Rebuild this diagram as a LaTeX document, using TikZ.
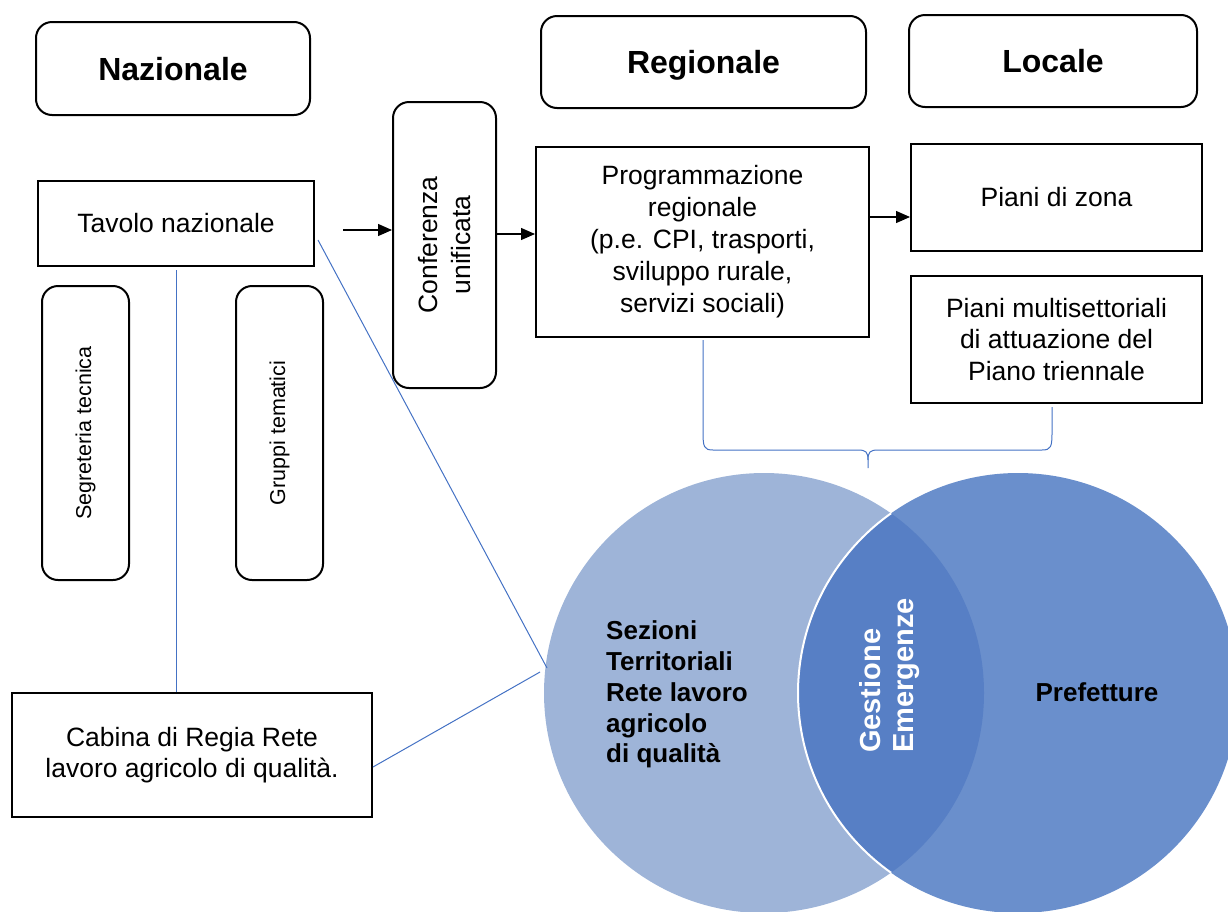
\documentclass[tikz,border=0pt]{standalone}
\usepackage{fontspec}
\setmainfont{Liberation Sans}
\usetikzlibrary{arrows.meta,calc}
\definecolor{cL}{RGB}{158,180,216}
\definecolor{cR}{RGB}{106,143,204}
\definecolor{cM}{RGB}{87,127,197}
\definecolor{lnblue}{RGB}{68,114,196}
\begin{document}
\begin{tikzpicture}[x=1pt,y=-1pt,
  box/.style={draw, line width=2pt, inner sep=0pt, align=center, font=\fontsize{26.5}{32}\selectfont},
  rbox/.style={box, rounded corners=16pt},
  head/.style={font=\fontsize{32}{38}\selectfont\bfseries, text height=23pt, text depth=0pt},
  vtext/.style={rotate=90, align=center, inner sep=0pt},
  arr/.style={-{Triangle[length=14pt,width=12pt]}, line width=1.3pt},
  conn/.style={draw=lnblue, line width=1pt}]
\useasboundingbox (0,0) rectangle (1228,911);
\clip (0,0) rectangle (1228,911);

% Venn circles
\node[circle, fill=cL, minimum size=440pt, inner sep=0pt] (L) at (764,693) {};
\node[circle, fill=cR, minimum size=440pt, inner sep=0pt] (R) at (1018,693) {};
\begin{scope}
  \clip (764,693) circle[radius=220pt];
  \fill[cM] (1018,693) circle[radius=220pt];
  \draw[white, line width=2pt] (1018,693) circle[radius=220pt];
\end{scope}

% header boxes
\node[rbox, head, minimum width=274pt, minimum height=93pt] (naz) at (173,68.5) {Nazionale};
\node[rbox, head, minimum width=325pt, minimum height=92pt] (reg) at (703.5,62) {Regionale};
\node[rbox, head, minimum width=288pt, minimum height=92pt] (loc) at (1053,61) {Locale};

% main boxes
\node[box, minimum width=276pt, minimum height=85pt] (tav) at (176,223.5) {Tavolo nazionale};
\node[rbox, minimum width=103pt, minimum height=286pt] (conf) at (444.5,245) {};
\node[vtext, font=\fontsize{26.5}{33}\selectfont] (confT) at (conf.center) {Conferenza\\unificata};
\node[box, minimum width=333pt, minimum height=190pt] (prog) at (702.5,242) {Programmazione\\regionale\\(p.e. CPI, trasporti,\\sviluppo rurale,\\servizi sociali)};
\node[box, minimum width=291pt, minimum height=107pt] (pz) at (1056.5,197.5) {Piani di zona};
\node[box, minimum width=291pt, minimum height=127pt, font=\fontsize{26.5}{31.5}\selectfont] (ms) at (1056.5,339.5) {Piani multisettoriali\\di attuazione del\\Piano triennale};
\node[rbox, minimum width=87pt, minimum height=294pt] (seg) at (85.5,433) {};
\node[vtext, font=\fontsize{21.5}{26}\selectfont] (segT) at (seg.center) {Segreteria tecnica};
\node[rbox, minimum width=87pt, minimum height=294pt] (gru) at (279.5,433) {};
\node[vtext, font=\fontsize{21.5}{26}\selectfont] (gruT) at (gru.center) {Gruppi tematici};
\node[box, minimum width=360pt, minimum height=124pt, font=\fontsize{26.5}{30.6}\selectfont] (cab) at (192,755) {Cabina di Regia Rete\\lavoro agricolo di qualità.};

% circle texts
\node[anchor=west, align=left, inner sep=0pt, font=\fontsize{26}{30.8}\selectfont\bfseries] (sez) at (606,694.5) {Sezioni\\Territoriali\\Rete lavoro\\agricolo\\di qualità};
\node[inner sep=0pt, font=\fontsize{26}{31}\selectfont\bfseries] (pref) at (1097,692) {Prefetture};
\node[rotate=90, anchor=west, align=left, inner sep=0pt, text=white, font=\fontsize{29}{33}\selectfont\bfseries] (ge) at (889.5,753) {Gestione\\Emergenze};

% arrows
\coordinate (a1) at (343,230);
\coordinate (a2) at ($(conf.east)+(0,-11)$);
\coordinate (a3) at ($(pz.west)+(0,19.5)$);
\draw[arr] (a1) -- (a1 -| conf.west);
\draw[arr] (a2) -- (a2 -| prog.west);
\draw[arr] (a3 -| prog.east) -- (a3);

% blue connectors
\coordinate (t1) at (176,270);
\draw[conn] (t1) -- (t1 |- cab.north);
\coordinate (d1) at (547,668);
\coordinate (d2) at (540,672);
\draw[conn] ($(tav.east)+(3,16.5)$) -- (d1);
\draw[conn] ($(cab.east)+(0,12)$) -- (d2);

% brace
\coordinate (bl) at ($(prog.south)+(0.5,2)$);
\coordinate (br) at (1052,407);
\coordinate (bc) at (868,468);
\draw[conn] (bl) -- (703,432) .. controls (703,447) and (704,450) .. (713,450) -- (858,450)
  .. controls (866,450) and (868,452) .. (868,460) -- (bc);
\draw[conn] (868,460) .. controls (868,452) and (870,450) .. (878,450) -- (1042,450)
  .. controls (1051,450) and (1052,447) .. (1052,432) -- (br);
\end{tikzpicture}
\end{document}
